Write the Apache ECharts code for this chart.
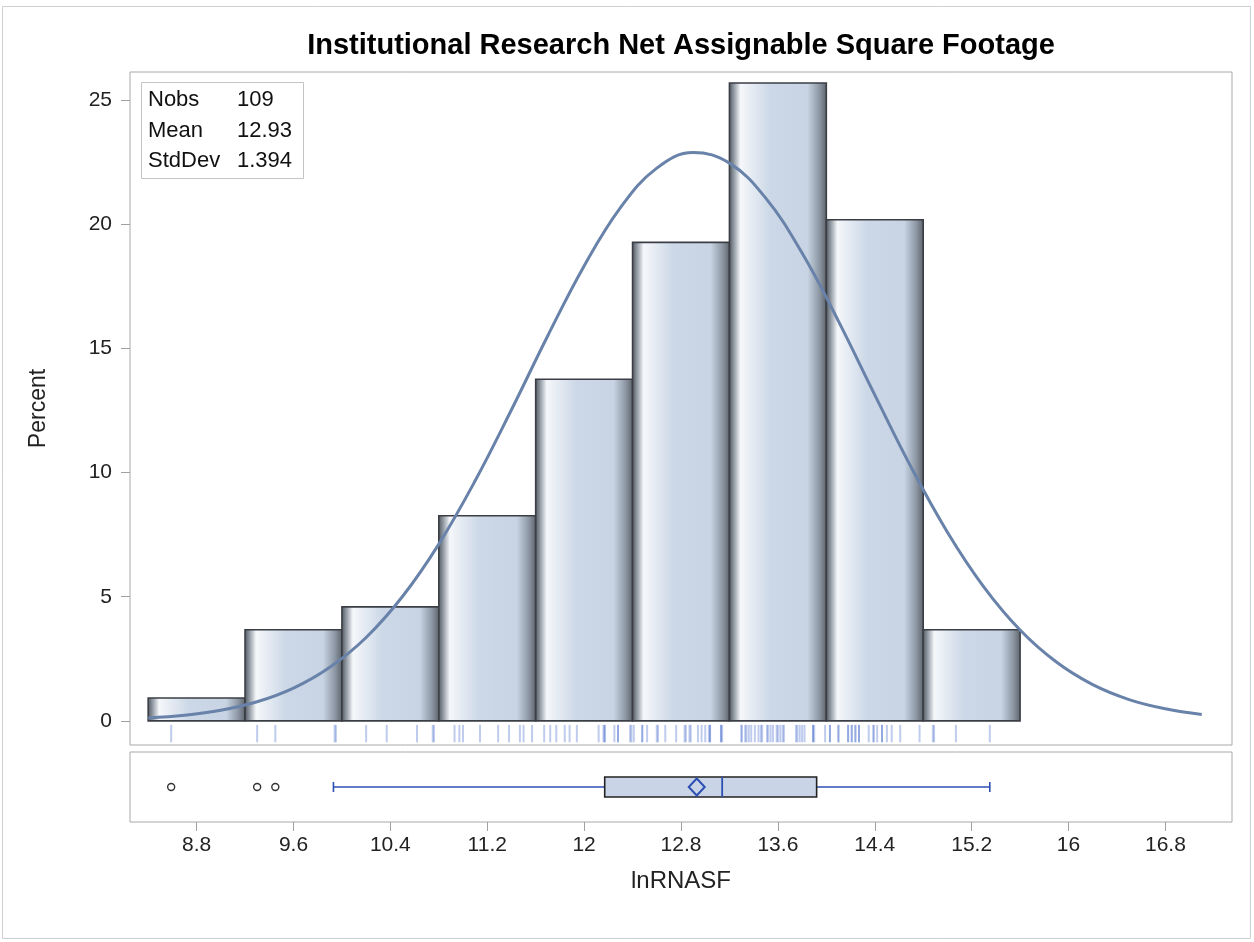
<!DOCTYPE html>
<html><head><meta charset="utf-8">
<script src="https://cdn.jsdelivr.net/npm/echarts@6/dist/echarts.min.js"></script>
<style>html,body{margin:0;padding:0;background:#fff}#c{width:1254px;height:942px}</style>
</head><body><div id="c"></div>
<script>
const chartTitle = 'Institutional Research Net Assignable Square Footage';
const xName = 'lnRNASF';
const yName = 'Percent';
const binEdges = [8.4, 9.2, 10.0, 10.8, 11.6, 12.4, 13.2, 14.0, 14.8, 15.6];
const binPercents = [0.92, 3.67, 4.59, 8.26, 13.76, 19.27, 25.69, 20.18, 3.67];
const xTicks = [8.8, 9.6, 10.4, 11.2, 12, 12.8, 13.6, 14.4, 15.2, 16, 16.8];
const yTicks = [0, 5, 10, 15, 20, 25];
const curveX = [8.4,8.7,9.0,9.3,9.6,9.9,10.2,10.5,10.8,11.1,11.4,11.7,12.0,12.3,12.6,12.9,13.2,13.5,13.8,14.1,14.4,14.7,15.0,15.3,15.6,15.9,16.2,16.5,16.8,17.1];
const curveY = [0.12,0.23,0.43,0.77,1.32,2.16,3.36,5.01,7.12,9.67,12.53,15.51,18.32,20.67,22.26,22.89,22.46,21.05,18.84,16.10,13.13,10.22,7.60,5.40,3.66,2.37,1.46,0.86,0.49,0.26];
const observations = [
  8.59,
  9.30, 9.45, 9.94, 9.95,
  10.20, 10.37, 10.62, 10.75, 10.76,
  10.93, 10.97, 11.00, 11.14, 11.29, 11.38, 11.47, 11.50, 11.57,
  11.67, 11.72, 11.77, 11.84, 11.88, 11.94, 12.12, 12.16, 12.17, 12.17, 12.25, 12.28, 12.28, 12.38, 12.39,
  12.41, 12.48, 12.48, 12.52, 12.60, 12.61, 12.67, 12.76, 12.83, 12.84, 12.87, 12.88, 12.94, 12.97, 13.00, 13.03, 13.04, 13.04, 13.13, 13.13, 13.14,
  13.30, 13.30, 13.33, 13.34, 13.36, 13.38, 13.41, 13.44, 13.46, 13.47, 13.51, 13.52, 13.54, 13.56, 13.59, 13.60, 13.62, 13.64, 13.65, 13.75, 13.76, 13.78, 13.80, 13.82, 13.89, 13.89, 13.90, 13.99,
  14.03, 14.03, 14.10, 14.10, 14.18, 14.18, 14.21, 14.21, 14.24, 14.24, 14.27, 14.27, 14.35, 14.39, 14.39, 14.42, 14.46, 14.46, 14.50, 14.54, 14.61, 14.77,
  14.88, 14.89, 15.07, 15.35
];
const boxFive = [9.93, 12.17, 13.14, 13.92, 15.35]; // whisker low, Q1, median, Q3, whisker high
const boxMean = 12.93;
const boxOutliers = [8.59, 9.30, 9.45];
const statLabels = ['Nobs', 'Mean', 'StdDev'];
const statValues = ['109', '12.93', '1.394'];

const FONT = '"Liberation Sans", Arial, sans-serif';
const chart = echarts.init(document.getElementById('c'));

const binData = binPercents.map((p, i) => [binEdges[i], binEdges[i + 1], p]);
const curveData = curveX.map((x, i) => [x, curveY[i]]);

const barFill = {
  type: 'linear', x: 0, y: 0, x2: 1, y2: 0,
  colorStops: [
    { offset: 0, color: '#4c5259' },
    { offset: 0.05, color: '#8d959f' },
    { offset: 0.12, color: '#f5f7fa' },
    { offset: 0.42, color: '#ccd8e7' },
    { offset: 0.8, color: '#c8d4e3' },
    { offset: 0.92, color: '#8e98a5' },
    { offset: 1, color: '#5b6169' }
  ]
};

const statGraphics = [{
  type: 'rect', shape: { x: 141.5, y: 82.5, width: 162, height: 96 },
  style: { fill: '#fff', stroke: '#c4c4c4', lineWidth: 1 }, z: 100
}];
statLabels.forEach((l, i) => {
  const y = 100 + i * 30.5;
  statGraphics.push({ type: 'text', x: 148, y, z: 101,
    style: { text: l, font: '22px ' + FONT, fill: '#111', textVerticalAlign: 'middle' } });
  statGraphics.push({ type: 'text', x: 237, y, z: 101,
    style: { text: statValues[i], font: '22px ' + FONT, fill: '#111', textVerticalAlign: 'middle' } });
});

const option = {
  backgroundColor: '#fff',
  animation: false,
  graphic: [
    { type: 'rect', shape: { x: 2.5, y: 6.5, width: 1248, height: 932 }, style: { fill: 'none', stroke: '#cfcfcf', lineWidth: 1 }, z: -10 },
    { type: 'text', x: 681, y: 46, style: { text: chartTitle, font: 'bold 29px ' + FONT, fill: '#000', textAlign: 'center', textVerticalAlign: 'middle' } },
    ...statGraphics
  ],
  grid: [
    { left: 130, top: 72, width: 1102, height: 673, show: true, borderColor: '#a8a8a8', borderWidth: 1, backgroundColor: '#fff' },
    { left: 130, top: 752, width: 1102, height: 70, show: true, borderColor: '#a8a8a8', borderWidth: 1, backgroundColor: '#fff' }
  ],
  xAxis: [
    { type: 'value', gridIndex: 0, min: 8.25, max: 17.35,
      axisLine: { show: false }, axisTick: { show: false }, axisLabel: { show: false }, splitLine: { show: false } },
    { type: 'value', gridIndex: 1, min: 8.25, max: 17.35,
      name: xName, nameLocation: 'middle', nameGap: 47,
      nameTextStyle: { fontSize: 24, color: '#222', fontFamily: FONT },
      axisLine: { show: false },
      axisTick: { show: true, customValues: xTicks, length: 9, lineStyle: { color: '#a0a0a0' } },
      axisLabel: { customValues: xTicks, fontSize: 21, color: '#222', fontFamily: FONT, margin: 13 },
      splitLine: { show: false } }
  ],
  yAxis: [
    { type: 'value', gridIndex: 0, min: -0.97, max: 26.13,
      name: yName, nameLocation: 'middle', nameGap: 80, nameRotate: 90,
      nameTextStyle: { fontSize: 23, color: '#222', fontFamily: FONT },
      axisLine: { show: false },
      axisTick: { show: true, customValues: yTicks, length: 9, lineStyle: { color: '#a0a0a0' } },
      axisLabel: { customValues: yTicks, fontSize: 21, color: '#222', fontFamily: FONT, margin: 18 },
      splitLine: { show: false } },
    { type: 'value', gridIndex: 1, min: 0, max: 1, show: false }
  ],
  series: [
    { type: 'custom', xAxisIndex: 0, yAxisIndex: 0, z: 2,
      data: binData,
      encode: { x: [0, 1], y: 2 },
      renderItem: (params, api) => {
        const a = api.coord([api.value(0), api.value(2)]);
        const b = api.coord([api.value(1), 0]);
        return { type: 'rect',
          shape: { x: a[0], y: a[1], width: b[0] - a[0], height: b[1] - a[1] },
          style: { fill: barFill, stroke: '#3b3f45', lineWidth: 1.6 } };
      } },
    { type: 'custom', xAxisIndex: 0, yAxisIndex: 0, z: 3,
      data: observations.map(v => [v]),
      encode: { x: 0 },
      renderItem: (params, api) => {
        const a = api.coord([api.value(0), -0.16]);
        const b = api.coord([api.value(0), -0.86]);
        return { type: 'line', shape: { x1: a[0], y1: a[1], x2: b[0], y2: b[1] },
          style: { stroke: 'rgba(55,95,200,0.32)', lineWidth: 2 } };
      } },
    { type: 'line', xAxisIndex: 0, yAxisIndex: 0, z: 5,
      data: curveData, smooth: 0.4, showSymbol: false, symbol: 'none',
      lineStyle: { color: '#6882a9', width: 3 } },
    { type: 'custom', xAxisIndex: 1, yAxisIndex: 1, z: 5,
      data: [[0]],
      renderItem: (params, api) => {
        const yc = 0.5;
        const P = v => api.coord([v, yc]);
        const [wl, q1, med, q3, wh] = boxFive.map(P);
        const cy = wl[1];
        const blue = '#2d4fb4';
        const hh = 10;
        const children = [
          { type: 'line', shape: { x1: wl[0], y1: cy, x2: q1[0], y2: cy }, style: { stroke: blue, lineWidth: 1.6 } },
          { type: 'line', shape: { x1: q3[0], y1: cy, x2: wh[0], y2: cy }, style: { stroke: blue, lineWidth: 1.6 } },
          { type: 'line', shape: { x1: wl[0], y1: cy - 5, x2: wl[0], y2: cy + 5 }, style: { stroke: blue, lineWidth: 1.6 } },
          { type: 'line', shape: { x1: wh[0], y1: cy - 5, x2: wh[0], y2: cy + 5 }, style: { stroke: blue, lineWidth: 1.6 } },
          { type: 'rect', shape: { x: q1[0], y: cy - hh, width: q3[0] - q1[0], height: 2 * hh }, style: { fill: '#c9d5e6', stroke: '#222', lineWidth: 1.6 } },
          { type: 'line', shape: { x1: med[0], y1: cy - hh, x2: med[0], y2: cy + hh }, style: { stroke: blue, lineWidth: 1.8 } }
        ];
        const m = P(boxMean);
        children.push({ type: 'polygon', shape: { points: [[m[0], cy - 8.5], [m[0] + 8, cy], [m[0], cy + 8.5], [m[0] - 8, cy]] },
          style: { fill: 'none', stroke: blue, lineWidth: 2 } });
        boxOutliers.forEach(v => {
          const o = P(v);
          children.push({ type: 'circle', shape: { cx: o[0], cy, r: 3.5 }, style: { fill: '#fff', stroke: '#333', lineWidth: 1.4 } });
        });
        return { type: 'group', children };
      } }
  ]
};
chart.setOption(option);
</script>
</body></html>
